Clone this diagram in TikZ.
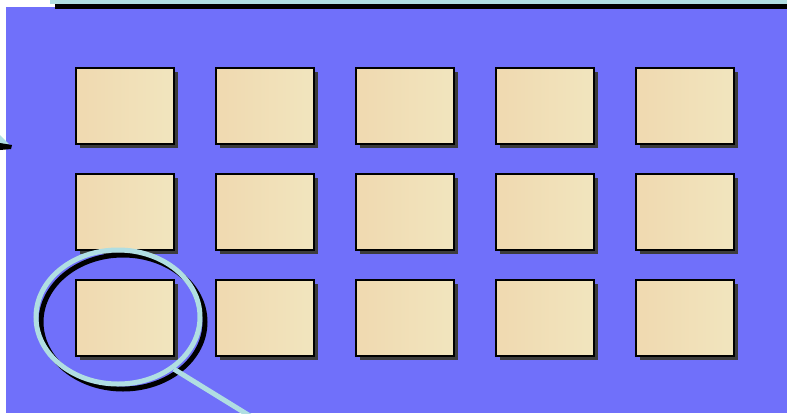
\documentclass[tikz,border=0pt]{standalone}
\usetikzlibrary{shapes.geometric,shadows}
\definecolor{bgblue}{RGB}{112,112,250}
\definecolor{lenscyan}{RGB}{176,222,226}
\definecolor{parchL}{RGB}{240,217,176}
\definecolor{parchR}{RGB}{241,229,190}
\definecolor{shadowgray}{RGB}{60,60,60}
\tikzset{
  tile/.style={draw=black, line width=1.6pt, anchor=north west,
    minimum width=98pt, minimum height=76pt, inner sep=0pt,
    left color=parchL, right color=parchR, shading angle=90,
    drop shadow={shadow xshift=4pt, shadow yshift=-4pt, fill=shadowgray, opacity=1}},
  lensring/.style={ellipse, draw=lenscyan, line width=5pt, minimum width=164pt, minimum height=134pt, inner sep=0pt},
  lensshadow/.style={ellipse, draw=black, line width=5pt, minimum width=164pt, minimum height=134pt, inner sep=0pt},
}
\begin{document}
\begin{tikzpicture}[x=1pt,y=-1pt]
\useasboundingbox (0,0) rectangle (787,413);
\clip (0,0) rectangle (787,413);
\fill[white] (0,0) rectangle (787,413);
\fill[bgblue] (6,7) rectangle (787,413);
\fill[lenscyan] (50,0) rectangle (787,4);
\fill[black] (55,4) rectangle (787,9);
\fill[lenscyan] (0,135) -- (9,144) -- (0,144) -- cycle;
\fill[black] (0,143) -- (12,145) -- (11,149) -- (0,150) -- cycle;
\foreach \r in {0,1,2}{
  \foreach \c in {0,1,2,3,4}{
    \pgfmathsetmacro{\xx}{75+140*\c}
    \pgfmathsetmacro{\yy}{67+106*\r}
    \node[tile] (t\r\c) at (\xx,\yy) {};
  }
}
\node[lensshadow] (lensb) at (123,322) {};
\node[lensring] (lens) at (118,317) {};
\coordinate (hend) at (250,416);
\draw[lenscyan, line width=5pt] (lens.-43) -- (hend);
\end{tikzpicture}
\end{document}
